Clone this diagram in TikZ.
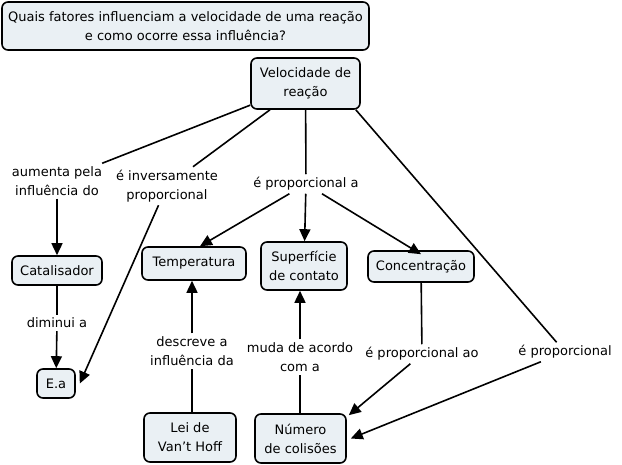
\documentclass[tikz,border=0pt]{standalone}
\usepackage{fontspec}
\setmainfont{DejaVu Sans}
\usetikzlibrary{arrows.meta}
\definecolor{boxfill}{HTML}{EAF0F4}
\begin{document}
\begin{tikzpicture}[x=1pt,y=-1pt,
  txt/.style={font=\fontsize{13}{19}\selectfont, align=center},
  box/.style={txt, draw=black, line width=1.6pt, rounded corners=6pt, fill=boxfill, inner sep=0pt},
  lab/.style={txt, inner sep=3pt},
  conn/.style={line width=1.6pt},
  arr/.style={conn, -{Triangle[length=12pt,width=11pt]}}]
\useasboundingbox (0,0) rectangle (622,465);
% concepts
\node[box, minimum width=367, minimum height=48] (title) at (185.5,26) {Quais fatores influenciam a velocidade de uma reação\\e como ocorre essa influência?};
\node[box, minimum width=109, minimum height=51] (vel) at (305.5,83.5) {Velocidade de\\reação};
\node[box, minimum width=90, minimum height=29] (cat) at (57,270.5) {Catalisador};
\node[box, minimum width=38, minimum height=29] (ea) at (56,383.5) {E.a};
\node[box, minimum width=104, minimum height=33] (temp) at (194,263.5) {Temperatura};
\node[box, minimum width=86, minimum height=48] (sup) at (304,266) {Superfície\\de contato};
\node[box, minimum width=106, minimum height=31] (conc) at (421,266.5) {Concentração};
\node[box, minimum width=92, minimum height=49] (lei) at (190,437.5) {Lei de\\Van't Hoff};
\node[box, minimum width=91, minimum height=49] (num) at (300.5,438.5) {Número\\de colisões};
% linking phrases
\node[lab] (l1) at (57,181) {aumenta pela\\influência do};
\node[lab] (l2) at (167,186) {é inversamente\\proporcional};
\node[lab] (l3) at (306,184) {é proporcional a};
\node[lab] (l4) at (57,323) {diminui a};
\node[lab] (l5) at (192,351) {descreve a\\influência da};
\node[lab] (l6) at (300,357) {muda de acordo\\com a};
\node[lab] (l7) at (422,354) {é proporcional ao};
\node[lab] (l8) at (565,352) {é proporcional};
% connectors
\draw[conn] (vel) -- (l1);
\draw[arr] (l1) -- (cat);
\draw[conn] (cat) -- (l4);
\draw[arr] (l4) -- (ea);
\draw[conn] (vel) -- (l2);
\draw[arr] (l2) -- ([xshift=4pt]ea.east);
\draw[conn] (vel) -- (l3);
\draw[arr] (l3) -- ([xshift=6pt]temp.north);
\draw[arr] (l3) -- (sup);
\draw[arr] (l3) -- ([yshift=-4pt]conc.north);
\draw[conn] ([xshift=-5pt]vel.south east) -- (l8);
\draw[arr] (l8) -- ([xshift=4pt]num.east);
\draw[conn] (lei.north -| l5.south) -- (l5.south);
\draw[arr] (l5.north) -- (temp.south -| l5.north);
\draw[conn] (num.north -| l6.south) -- (l6.south);
\draw[arr] (l6.north) -- (sup.south -| l6.north);
\draw[conn] (conc) -- (l7);
\draw[arr] (l7) -- ([xshift=2pt,yshift=-2pt]num.north east);
\end{tikzpicture}
\end{document}
